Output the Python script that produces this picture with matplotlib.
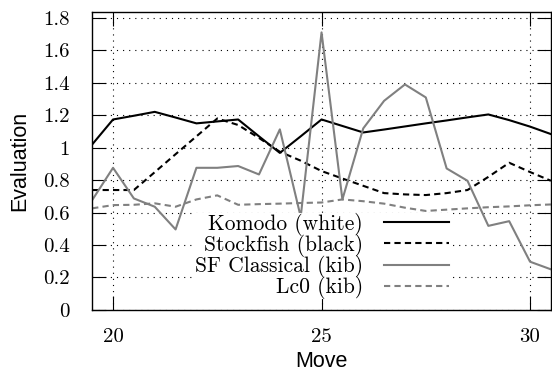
import matplotlib
matplotlib.use("Agg")
import matplotlib.pyplot as plt
from matplotlib.ticker import FuncFormatter

# half-move positions and engine evaluations
moves = [19.5, 20, 20.5, 21, 21.5, 22, 22.5, 23, 23.5, 24, 24.5, 25,
         25.5, 26, 26.5, 27, 27.5, 28, 28.5, 29, 29.5, 30, 30.5]

komodo = [1.02, 1.174, 1.197, 1.221, 1.186, 1.15, 1.162, 1.174, 1.07, 0.968,
          1.07, 1.174, 1.134, 1.094, 1.112, 1.131, 1.15, 1.168, 1.187, 1.205,
          1.17, 1.13, 1.084]
stockfish = [0.739, 0.739, 0.739, 0.849, 0.96, 1.07, 1.18, 1.14, 1.06, 0.975,
             0.92, 0.856, 0.81, 0.765, 0.72, 0.712, 0.708, 0.72, 0.739, 0.82,
             0.907, 0.85, 0.796]
sf_classical = [0.677, 0.876, 0.687, 0.636, 0.496, 0.876, 0.876, 0.887, 0.835,
                1.113, 0.574, 1.711, 0.681, 1.119, 1.289, 1.39, 1.31, 0.872,
                0.796, 0.518, 0.547, 0.297, 0.25]
lc0 = [0.626, 0.646, 0.648, 0.657, 0.636, 0.681, 0.706, 0.648, 0.652, 0.655,
       0.659, 0.662, 0.681, 0.67, 0.655, 0.63, 0.61, 0.618, 0.626, 0.633,
       0.638, 0.645, 0.65]

labels = ["Komodo (white)", "Stockfish (black)", "SF Classical (kib)", "Lc0 (kib)"]
x_ticks = [20, 25, 30]
y_ticks = [0, 0.2, 0.4, 0.6, 0.8, 1.0, 1.2, 1.4, 1.6, 1.8]

SERIF = "cmr10"
SANS = "Liberation Sans"


def main():
    fig = plt.figure(figsize=(5.52, 3.72), dpi=100)
    ax = fig.add_axes([0.167, 0.167, 0.831, 0.8])

    grey = "#808080"
    ax.plot(moves, komodo, color="black", lw=1.5, label=labels[0])
    ax.plot(moves, stockfish, color="black", lw=1.5, ls=(0, (3, 2)), label=labels[1])
    ax.plot(moves, sf_classical, color=grey, lw=1.5, label=labels[2])
    ax.plot(moves, lc0, color=grey, lw=1.5, ls=(0, (3, 2)), label=labels[3])

    ax.set_xlim(19.5, 30.5)
    ax.set_ylim(0, 1.835)
    ax.set_xticks(x_ticks)
    ax.set_yticks(y_ticks)
    ax.yaxis.set_major_formatter(FuncFormatter(lambda v, p: f"{v:g}"))

    ax.set_axisbelow(True)
    ax.grid(True, color="black", lw=0.8, ls=(0, (1, 4.5)))
    ax.tick_params(direction="in", length=10, width=0.8, top=True, right=True,
                   labelsize=15)
    ax.tick_params(axis="y", pad=16)
    ax.tick_params(axis="x", pad=13)
    for lab in ax.get_xticklabels() + ax.get_yticklabels():
        lab.set_fontfamily(SERIF)
    for sp in ax.spines.values():
        sp.set_linewidth(1.0)

    ax.set_xlabel("Move", family=SANS, fontsize=15.5, labelpad=4)
    ax.set_ylabel("Evaluation", family=SANS, fontsize=15.5, labelpad=9)

    leg = ax.legend(loc="upper right", bbox_to_anchor=(0.778, 0.327),
                    markerfirst=False, frameon=True, fancybox=False,
                    framealpha=1.0, edgecolor="none", facecolor="white",
                    handlelength=3.0, handletextpad=1.0, borderpad=0.0,
                    labelspacing=-0.08, borderaxespad=0.0,
                    prop={"family": SERIF, "size": 15.5})
    leg.set_zorder(2.2)  # above the curves, below the spines

    fig.savefig("out.png", dpi=100)


if __name__ == "__main__":
    main()
